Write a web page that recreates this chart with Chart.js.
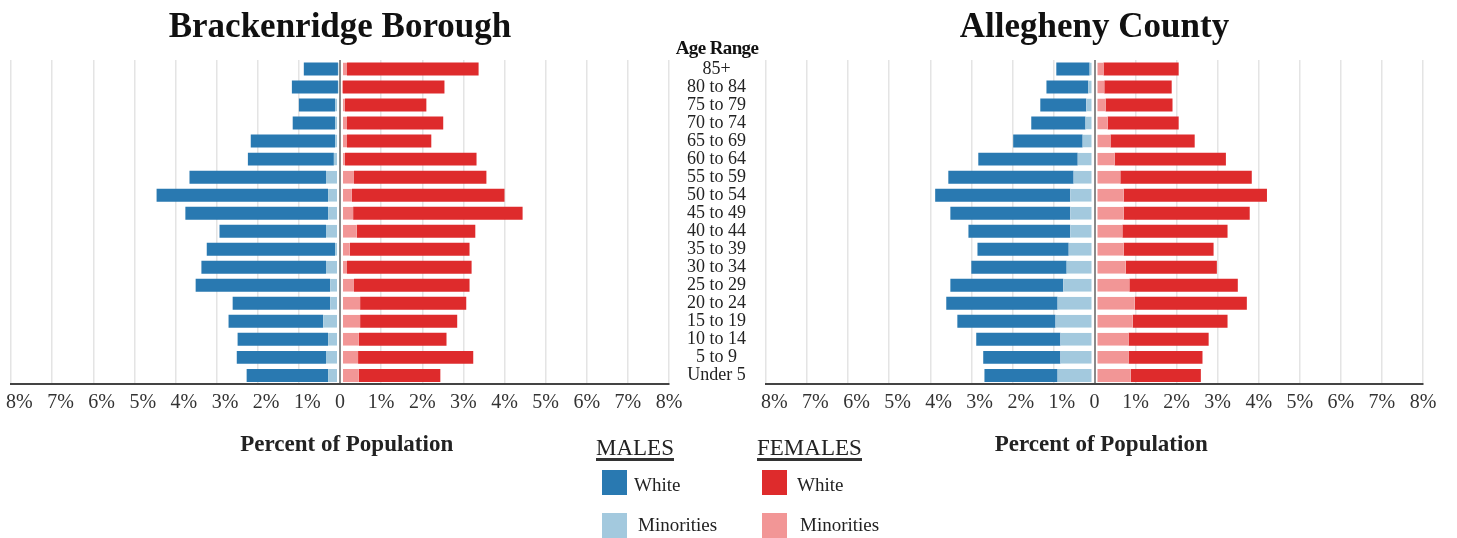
<!DOCTYPE html>
<html><head><meta charset="utf-8">
<script src="https://cdn.jsdelivr.net/npm/chart.js@4.4.1/dist/chart.umd.min.js"></script>
<style>
html,body{margin:0;padding:0;background:#fff;width:1457px;height:538px;overflow:hidden;font-family:'Liberation Serif','Times New Roman',serif;}
#leftBox{position:absolute;left:0;top:0;width:766px;height:463px;}
#rightBox{position:absolute;left:700px;top:0;width:757px;height:463px;}
#ageHead{position:absolute;left:667px;width:100px;top:37px;text-align:center;font-weight:bold;font-size:19px;letter-spacing:-0.6px;color:#111;line-height:22px;}
.lhead{position:absolute;top:437px;font-size:23px;line-height:21px;color:#222;border-bottom:3px solid #333;}
.sw{position:absolute;width:25px;height:25px;}
.lt{position:absolute;font-size:19px;line-height:20px;color:#222;}
</style></head>
<body>
<div id="leftBox"><canvas id="c1"></canvas></div>
<div id="rightBox"><canvas id="c2"></canvas></div>
<div id="ageHead">Age Range</div>
<div id="legend"></div>
<script>
const ageLabels = ['85+','80 to 84','75 to 79','70 to 74','65 to 69','60 to 64','55 to 59','50 to 54','45 to 49','40 to 44','35 to 39','30 to 34','25 to 29','20 to 24','15 to 19','10 to 14','5 to 9','Under 5'];

// Brackenridge Borough (percent of population)
const brackMaleWhite = [0.83,1.12,0.88,1.03,2.05,2.09,3.32,4.17,3.47,2.59,3.12,3.03,3.27,2.37,2.30,2.20,2.17,1.98];
const brackMaleMin   = [0.05,0.05,0.12,0.12,0.12,0.15,0.34,0.29,0.29,0.34,0.12,0.34,0.24,0.24,0.41,0.29,0.34,0.29];
const brackFemWhite  = [3.20,2.47,1.98,2.34,2.05,3.20,3.22,3.71,4.12,2.88,2.91,3.03,2.81,2.58,2.36,2.13,2.80,1.98];
const brackFemMin    = [0.17,0.07,0.12,0.17,0.17,0.12,0.34,0.29,0.32,0.41,0.24,0.17,0.34,0.49,0.49,0.46,0.44,0.46];

// Allegheny County
const alleMaleWhite = [0.81,1.02,1.12,1.32,1.69,2.42,3.05,3.29,2.92,2.48,2.22,2.32,2.75,2.71,2.39,2.05,1.88,1.78];
const alleMaleMin   = [0.12,0.15,0.20,0.22,0.29,0.41,0.51,0.59,0.59,0.59,0.63,0.68,0.76,0.90,0.95,0.83,0.83,0.90];
const alleFemWhite  = [1.83,1.64,1.63,1.73,2.05,2.71,3.20,3.49,3.07,2.56,2.19,2.22,2.64,2.73,2.31,1.95,1.80,1.71];
const alleFemMin    = [0.22,0.24,0.27,0.32,0.39,0.49,0.63,0.71,0.71,0.68,0.71,0.76,0.85,0.98,0.93,0.83,0.83,0.88];

const C_MALE_WHITE = '#2979b1';
const C_MALE_MIN = '#a3c9de';
const C_FEM_WHITE = '#de2b2c';
const C_FEM_MIN = '#f29696';

Chart.defaults.font.family = "'Liberation Serif','Times New Roman',serif";

function makeChart(id, title, mW, mM, fW, fM, showAges, padL, padR){
  const clear = 'rgba(0,0,0,0)';
  const common = {barPercentage:0.72, categoryPercentage:1, stack:'s'};
  return new Chart(document.getElementById(id), {
    type:'bar',
    data:{
      labels: ageLabels,
      datasets:[
        Object.assign({label:'Males Minorities', data:mM.map(v=>-v), backgroundColor:C_MALE_MIN, borderColor:clear, borderWidth:{left:0,right:2,top:0,bottom:0}, borderSkipped:false}, common),
        Object.assign({label:'Males White', data:mW.map(v=>-v), backgroundColor:C_MALE_WHITE, borderWidth:0}, common),
        Object.assign({label:'Females Minorities', data:fM, backgroundColor:C_FEM_MIN, borderColor:clear, borderWidth:{left:2,right:0,top:0,bottom:0}, borderSkipped:false}, common),
        Object.assign({label:'Females White', data:fW, backgroundColor:C_FEM_WHITE, borderWidth:0}, common)
      ]
    },
    options:{
      indexAxis:'y', responsive:true, maintainAspectRatio:false, animation:false,
      layout:{padding:{left:padL,right:padR,top:0,bottom:0}},
      plugins:{
        legend:{display:false}, tooltip:{enabled:false},
        title:{display:true, text:title, fullSize:false, color:'#111', font:{size:35, weight:'bold'}, padding:{top:7,bottom:11}}
      },
      scales:{
        x:{
          min:-8, max:8, stacked:true,
          ticks:{stepSize:1, autoSkip:false, maxRotation:0, minRotation:0, color:'#333', font:{size:20}, padding:6,
            callback:(v)=> v===0 ? '0' : (v<0 ? '\u2002\u2005\u200A' : '') + Math.abs(v) + '%'},
          grid:{drawTicks:false, color:(c)=> (c.tick && c.tick.value===0) ? '#8a8a8a' : '#e4e4e4', lineWidth:(c)=> (c.tick && c.tick.value===0) ? 2 : 1.5},
          border:{display:true, color:'#444', width:2},
          title:{display:true, text:'\u2002\u200APercent of Population', color:'#222', font:{size:23, weight:'bold'}, padding:{top:11,bottom:4}},
          afterFit:(s)=>{ s.paddingLeft = 0; s.paddingRight = 0; }
        },
        y:{
          stacked:true, position:'right', display:showAges,
          ticks:{autoSkip:false, crossAlign:'center', padding:0, color:'#222', font:{size:18, lineHeight:1}},
          grid:{display:false, drawTicks:true, tickLength:18},
          border:{display:false},
          afterFit:(s)=>{ s.width = showAges ? 97 : 0; }
        }
      }
    }
  });
}

makeChart('c1', 'Brackenridge Borough', brackMaleWhite, brackMaleMin, brackFemWhite, brackFemMin, true, 11, 0);
makeChart('c2', 'Allegheny County', alleMaleWhite, alleMaleMin, alleFemWhite, alleFemMin, false, 66, 34);

// HTML legend built from the series colours
const legendItems = [
  {head:'MALES', x:596, sx:602, items:[{c:C_MALE_WHITE,t:'White',tx:634},{c:C_MALE_MIN,t:'Minorities',tx:638}]},
  {head:'FEMALES', x:757, sx:762, items:[{c:C_FEM_WHITE,t:'White',tx:797},{c:C_FEM_MIN,t:'Minorities',tx:800}]}
];
const lg = document.getElementById('legend');
const rowsY = [{sq:470, tt:475},{sq:513, tt:515}];
legendItems.forEach(g=>{
  const h = document.createElement('div'); h.className='lhead'; h.style.left=g.x+'px'; h.textContent=g.head; lg.appendChild(h);
  g.items.forEach((it,i)=>{
    const s=document.createElement('div'); s.className='sw'; s.style.left=g.sx+'px'; s.style.top=rowsY[i].sq+'px'; s.style.background=it.c; lg.appendChild(s);
    const t=document.createElement('div'); t.className='lt'; t.style.left=it.tx+'px'; t.style.top=rowsY[i].tt+'px'; t.textContent=it.t; lg.appendChild(t);
  });
});
</script>
</body></html>
